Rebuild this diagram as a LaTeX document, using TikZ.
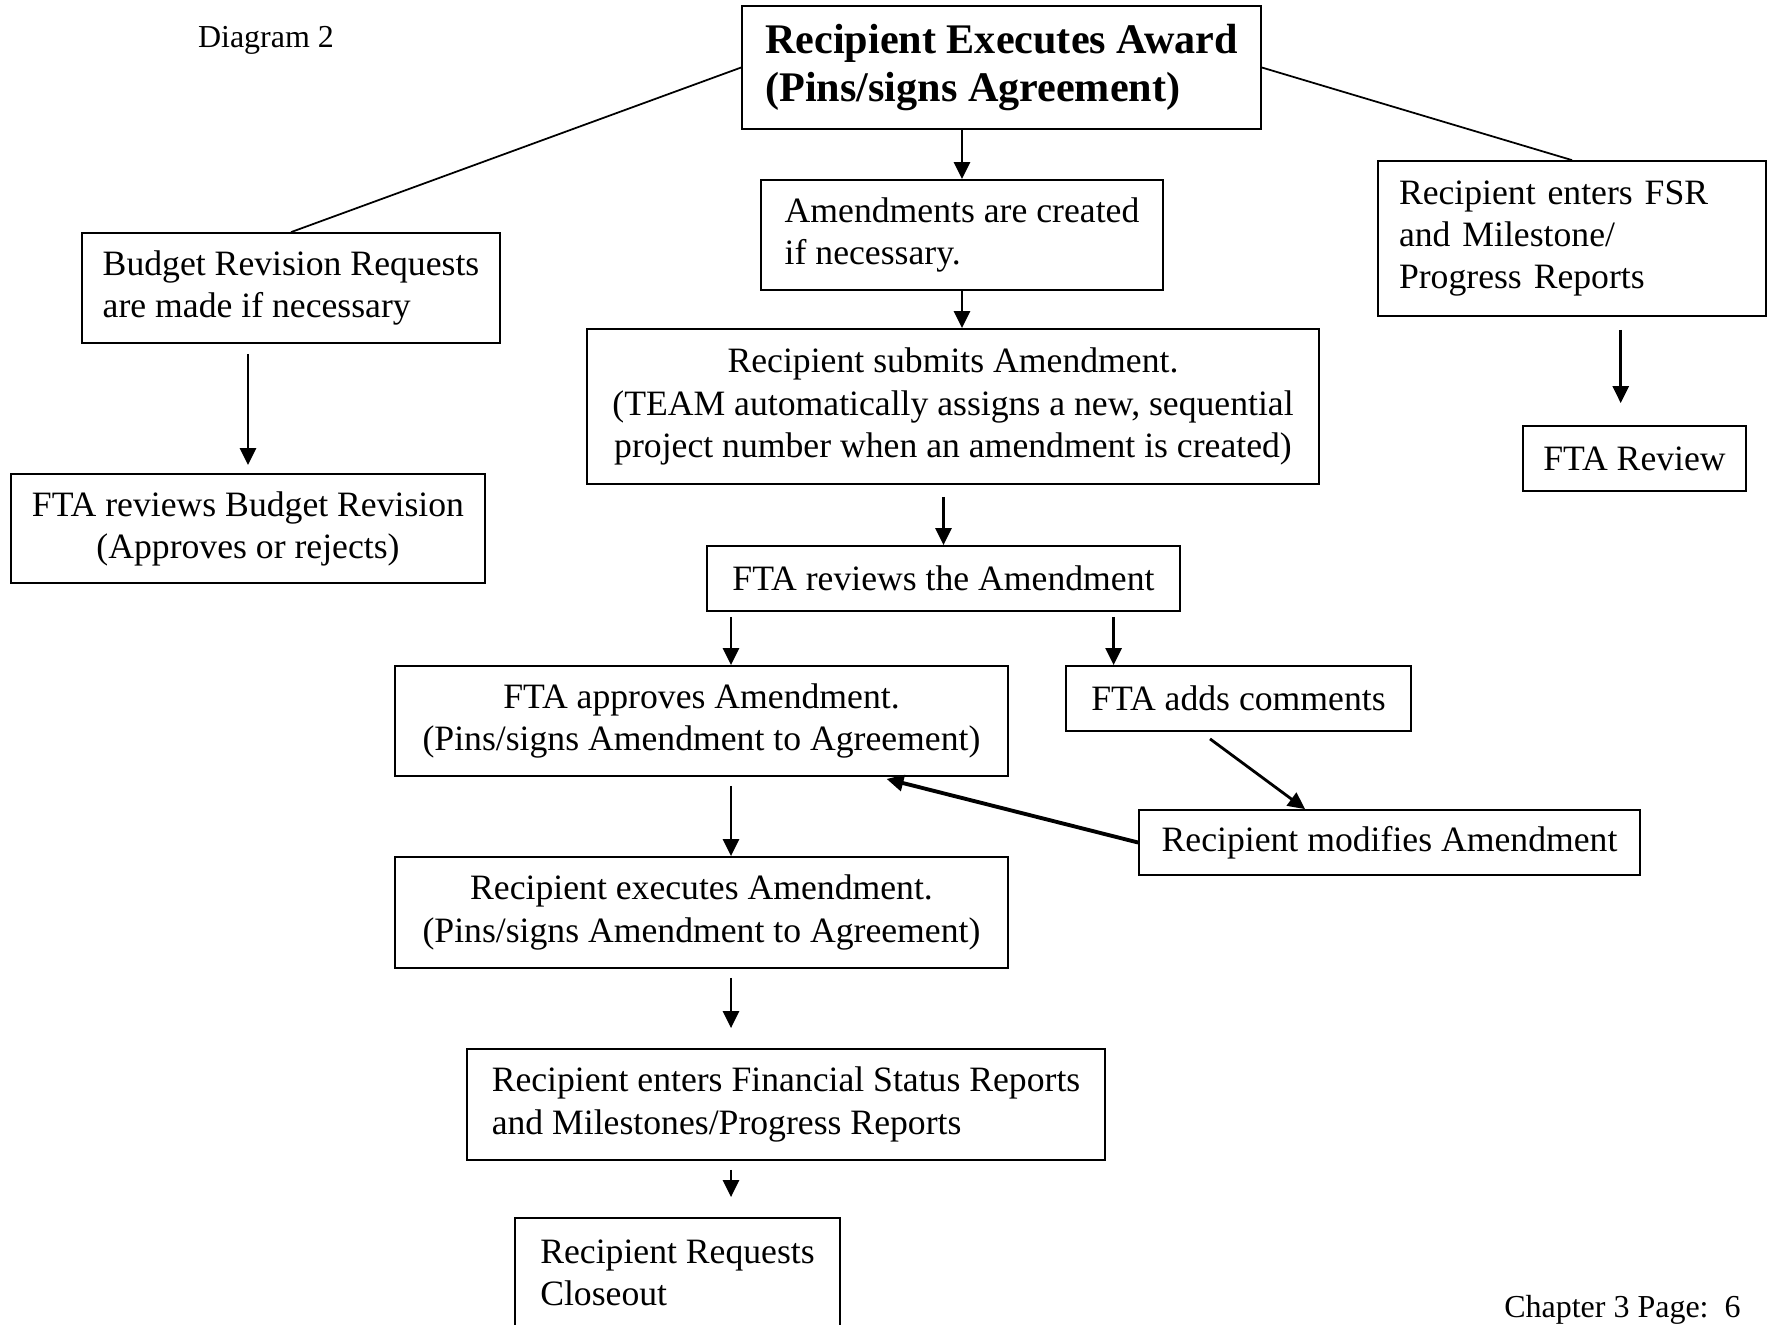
\documentclass[tikz,border=0pt]{standalone}
\usepackage{fontspec}
\setmainfont{Liberation Serif}
\usepackage{tikz}
\usetikzlibrary{positioning,arrows.meta,calc}
\newcommand{\boxfont}{\fontsize{10.15}{12}\selectfont}
\newcommand{\headfont}{\fontsize{12}{13.4}\selectfont\bfseries}
\newcommand{\notefont}{\fontsize{9.1}{11}\selectfont}

\begin{document}
\begin{tikzpicture}[
  box/.style={draw, line width=0.5pt, inner sep=0pt, font=\boxfont,
    align=center},
  lbox/.style={box, align=left},
  arr/.style={-{Triangle[length=1.7mm,width=1.6mm]}, line width=0.8pt},
  link/.style={line width=0.5pt}
]
\useasboundingbox (0,0) rectangle (17.69,-13.24);
% Cabecera
\node[font=\notefont] (diag) at (2.66,-0.40) {Diagram 2};
\node[box, font=\headfont, align=left, minimum width=5.19cm,
  minimum height=1.23cm] (award) at (10.015,-0.675)
  {Recipient Executes Award\\(Pins/signs Agreement)};
% Rama izquierda
\node[lbox, minimum width=4.18cm, minimum height=1.10cm] (budget)
  at (2.91,-2.88) {Budget Revision Requests\\are made if necessary};
\node[box, minimum width=4.74cm, minimum height=1.09cm] (fbudget)
  at (2.48,-5.285) {FTA reviews Budget Revision\\(Approves or rejects)};
% Rama derecha
\node[box, align=left, text width=3.46cm, minimum width=3.88cm,
  minimum height=1.55cm] (fsr) at (15.72,-2.385)
  {Recipient enters FSR\\and Milestone/\\Progress Reports};
\node[box, minimum width=2.23cm, minimum height=0.65cm] (ftarev)
  at (16.345,-4.585) {FTA Review};
% Rama central
\node[lbox, minimum width=4.02cm, minimum height=1.10cm] (amend)
  at (9.62,-2.35) {Amendments are created\\if necessary.};
\node[box, minimum width=7.32cm, minimum height=1.55cm] (submit)
  at (9.53,-4.065) {Recipient submits Amendment.\\
  (TEAM automatically assigns a new, sequential\\
  project number when an amendment is created)};
\node[box, minimum width=4.73cm, minimum height=0.65cm] (review)
  at (9.435,-5.785) {FTA reviews the Amendment};
\node[box, minimum width=6.13cm, minimum height=1.10cm] (approve)
  at (7.015,-7.21) {FTA approves Amendment.\\
  (Pins/signs Amendment to Agreement)};
\node[box, minimum width=3.45cm, minimum height=0.65cm] (comments)
  at (12.385,-6.985) {FTA adds comments};
\node[box, minimum width=5.01cm, minimum height=0.65cm] (modify)
  at (13.895,-8.425) {Recipient modifies Amendment};
\node[box, minimum width=6.13cm, minimum height=1.11cm] (execute)
  at (7.015,-9.125) {Recipient executes Amendment.\\
  (Pins/signs Amendment to Agreement)};
\node[lbox, minimum width=6.38cm, minimum height=1.11cm] (enters)
  at (7.86,-11.045) {Recipient enters Financial Status Reports\\
  and Milestones/Progress Reports};
\node[lbox, minimum width=3.25cm, minimum height=1.10cm] (closeout)
  at (6.775,-12.73) {Recipient Requests\\Closeout};
\node[font=\notefont, anchor=base east] (page) at (17.53,-13.17)
  {Chapter 3 Page:\ \ 6};
% Puntos de paso
\coordinate (spine) at ([xshift=2.95mm]approve.north);
\coordinate (cmin) at ([xshift=4.85mm]comments.north west);
\coordinate (fsrout) at ($(fsr.south)!0.25!(fsr.south east)$);
% Lineas desde la adjudicacion
\draw[link] (award.west) -- (budget.north);
\draw[link] (award.east) -- (fsr.north);
% Flechas
\draw[arr] (award.south -| amend.north) -- (amend.north);
\draw[arr] (amend.south) -- (amend.south |- submit.north);
\draw[arr, shorten <=1.2mm] (review.north |- submit.south) -- (review.north);
\draw[arr, shorten <=1mm, shorten >=0.8mm] (fbudget.north |- budget.south)
  -- (fbudget.north);
\draw[arr, shorten <=1.3mm, shorten >=2.2mm] (fsrout) -- (fsrout |- ftarev.north);
\draw[arr, shorten <=0.5mm] (spine |- review.south) -- (spine);
\draw[arr, shorten <=0.5mm] (cmin |- review.south) -- (cmin);
\draw[arr, shorten <=0.9mm] (spine |- approve.south) -- (spine |- execute.north);
\draw[arr, shorten <=0.9mm, shorten >=2mm] (spine |- execute.south)
  -- (spine |- enters.north);
\draw[arr, shorten <=0.9mm, shorten >=2mm] (spine |- enters.south)
  -- (spine |- closeout.north);
\draw[arr] ([xshift=-2.85mm, yshift=-0.7mm]comments.south)
  -- ([xshift=16.7mm]modify.north west);
\draw[arr, line width=1.1pt] (modify.west)
  -- ([xshift=18.5mm, yshift=-0.2mm]approve.south);
\end{tikzpicture}
\end{document}
